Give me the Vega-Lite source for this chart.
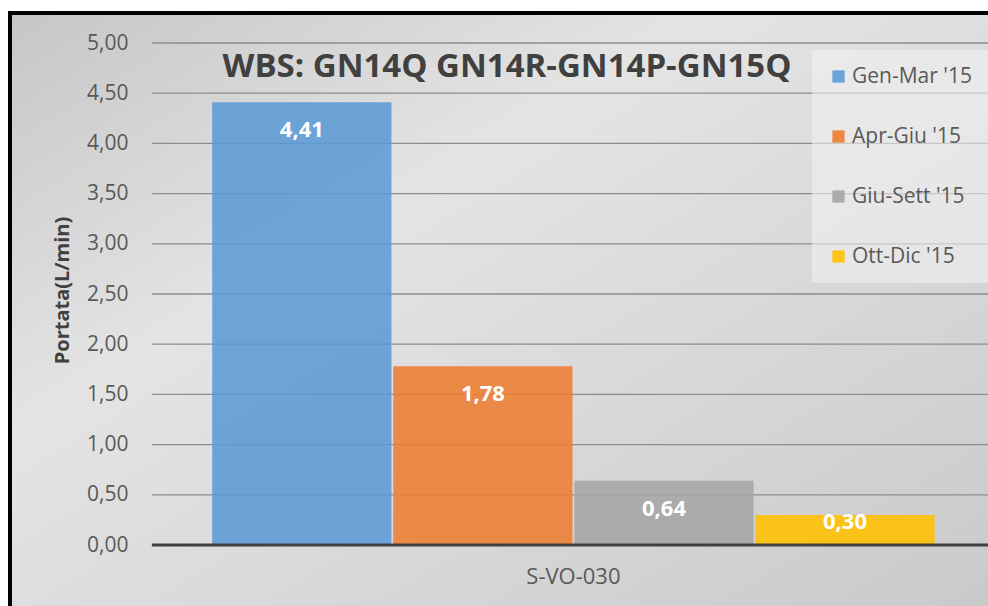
{
  "$schema": "https://vega.github.io/schema/vega-lite/v6.json",
  "autosize": "none",
  "padding": {"left": 10, "top": 13, "right": 0, "bottom": 0},
  "width": 1000,
  "height": 600,
  "background": "#ffffff",
  "title": {"text": "WBS: GN14Q GN14R-GN14P-GN15Q", "anchor": "middle", "frame": "group", "offset": -97, "dx": -3, "baseline": "alphabetic", "font": "Open Sans", "fontSize": 33, "fontWeight": "bold", "color": "#404040"},
  "config": {
    "locale": {"number": {"decimal": ",", "thousands": ".", "grouping": [3], "currency": ["€", ""]}},
    "view": {"stroke": "#000000", "strokeWidth": 4, "fill": {"gradient": "linear", "x1": 0, "y1": 0, "x2": 1, "y2": 1, "stops": [{"offset": 0, "color": "#c6c6c6"}, {"offset": 0.35, "color": "#e4e4e4"}, {"offset": 1, "color": "#c9c9c9"}]}},
    "font": "Open Sans"
  },
  "data": {"values": [
    {"sito": "S-VO-030", "periodo": "Gen-Mar '15", "portata": 4.41},
    {"sito": "S-VO-030", "periodo": "Apr-Giu '15", "portata": 1.78},
    {"sito": "S-VO-030", "periodo": "Giu-Sett '15", "portata": 0.64},
    {"sito": "S-VO-030", "periodo": "Ott-Dic '15", "portata": 0.30}
  ]},
  "encoding": {
    "x": {"field": "sito", "type": "nominal", "scale": {"paddingInner": 0, "paddingOuter": 0.0931, "align": 0.904},
      "axis": {"orient": "bottom", "offset": -68, "title": null, "domain": false, "ticks": false, "tickSize": 0, "labelPadding": 21, "labelAngle": 0, "labelFontSize": 22, "labelColor": "#595959", "labelFont": "Open Sans"}}
  },
  "layer": [
    {
      "data": {"values": [{"v": 0.5}, {"v": 1.0}, {"v": 1.5}, {"v": 2.0}, {"v": 2.5}, {"v": 3.0}, {"v": 3.5}, {"v": 4.0}, {"v": 4.5}, {"v": 5.0}]},
      "mark": {"type": "rule", "color": "#8c8c8c", "strokeWidth": 1.3},
      "encoding": {
        "x": {"datum": "S-VO-030", "bandPosition": 0},
        "x2": {"datum": "S-VO-030", "bandPosition": 1},
        "y": {"field": "v", "type": "quantitative", "scale": {"domain": [-0.677, 5.299], "nice": false, "zero": false},
          "axis": {"values": [0, 0.5, 1, 1.5, 2, 2.5, 3, 3.5, 4, 4.5, 5], "format": ".2f", "grid": false, "domain": false, "ticks": false, "offset": -120, "labelPadding": 2, "labelFontSize": 21, "labelColor": "#595959", "labelFont": "Open Sans",
            "title": "Portata(L/min)", "titleFontSize": 20, "titleFontWeight": "bold", "titleColor": "#404040", "titleFont": "Open Sans", "titleX": -68, "titleY": 277, "titleBaseline": "middle", "titleAngle": -90}}
      }
    },
    {
      "mark": {"type": "bar", "opacity": 0.88},
      "encoding": {
        "xOffset": {"field": "periodo", "type": "nominal", "sort": ["Gen-Mar '15", "Apr-Giu '15", "Giu-Sett '15", "Ott-Dic '15"], "scale": {"paddingInner": 0.01, "paddingOuter": 0.333}},
        "y": {"field": "portata", "type": "quantitative"},
        "color": {"field": "periodo", "type": "nominal", "sort": ["Gen-Mar '15", "Apr-Giu '15", "Giu-Sett '15", "Ott-Dic '15"],
          "scale": {"domain": ["Gen-Mar '15", "Apr-Giu '15", "Giu-Sett '15", "Ott-Dic '15"], "range": ["#5b9bd5", "#ed7d31", "#a5a5a5", "#ffc000"]},
          "legend": {"title": null, "orient": "none", "legendX": 802, "legendY": 37, "padding": 16, "fillColor": "rgba(240,240,240,0.6)", "symbolType": "square", "symbolSize": 150, "symbolOpacity": 0.9, "labelFontSize": 21, "labelColor": "#595959", "labelFont": "Open Sans", "rowPadding": 38, "labelOffset": 3, "symbolStrokeWidth": 0}}
      }
    },
    {
      "data": {"values": [{"z": 0}]},
      "mark": {"type": "rule", "color": "#404040", "strokeWidth": 3},
      "encoding": {
        "x": {"datum": "S-VO-030", "bandPosition": 0},
        "x2": {"datum": "S-VO-030", "bandPosition": 1},
        "y": {"field": "z", "type": "quantitative"}
      }
    },
    {
      "transform": [{"filter": "datum.portata > 0.5"}],
      "mark": {"type": "text", "color": "#ffffff", "fontWeight": "bold", "fontSize": 22, "baseline": "middle", "dy": 28, "font": "Open Sans"},
      "encoding": {
        "xOffset": {"field": "periodo", "type": "nominal", "sort": ["Gen-Mar '15", "Apr-Giu '15", "Giu-Sett '15", "Ott-Dic '15"]},
        "y": {"field": "portata", "type": "quantitative"},
        "text": {"field": "portata", "type": "quantitative", "format": ".2f"}
      }
    },
    {
      "transform": [{"filter": "datum.portata <= 0.5"}],
      "mark": {"type": "text", "color": "#ffffff", "fontWeight": "bold", "fontSize": 22, "baseline": "middle", "dy": 7, "font": "Open Sans"},
      "encoding": {
        "xOffset": {"field": "periodo", "type": "nominal", "sort": ["Gen-Mar '15", "Apr-Giu '15", "Giu-Sett '15", "Ott-Dic '15"]},
        "y": {"field": "portata", "type": "quantitative"},
        "text": {"field": "portata", "type": "quantitative", "format": ".2f"}
      }
    }
  ],
  "resolve": {"scale": {"y": "shared"}}
}
